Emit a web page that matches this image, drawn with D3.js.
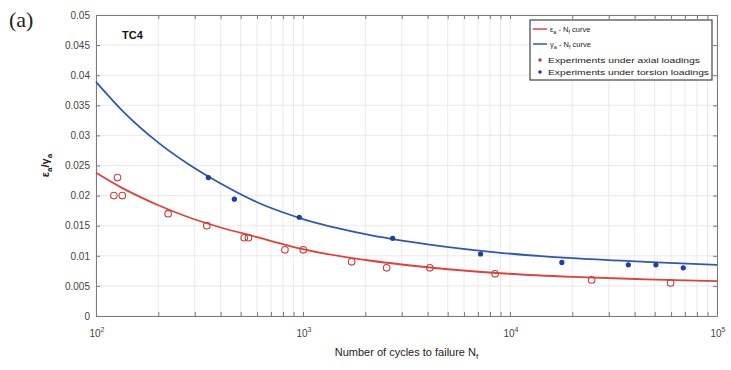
<!DOCTYPE html>
<html>
<head>
<meta charset="utf-8">
<script src="https://cdn.jsdelivr.net/npm/d3@7"></script>
<style>
  html, body { margin: 0; padding: 0; background: #fff; }
  svg { display: block; font-family: "Liberation Sans", Arial, sans-serif; }
</style>
</head>
<body>
<svg id="chart" width="731" height="370"></svg>
<script>
// Fitted strain-life curves (cycles to failure vs. amplitude)
const curveN      = [100, 135, 200, 280, 400, 600, 850, 1000, 2000, 4000, 9000, 20000, 45000, 100000];
const axialCurve  = [0.0238, 0.0212, 0.0184, 0.0164, 0.0147, 0.0131, 0.0117, 0.0111, 0.0093, 0.0081, 0.0071, 0.0065, 0.0061, 0.0058];
const torsionCurve= [0.0389, 0.0340, 0.0288, 0.0252, 0.0220, 0.0189, 0.0169, 0.0161, 0.0136, 0.0119, 0.0105, 0.0096, 0.0090, 0.0085];

// Experimental points, axial loadings
const axialN   = [122, 134, 127, 223, 343, 520, 545, 818, 1003, 1718, 2535, 4100, 8470, 24800, 59700];
const axialAmp = [0.020, 0.020, 0.023, 0.017, 0.015, 0.013, 0.013, 0.011, 0.011, 0.009, 0.008, 0.008, 0.007, 0.006, 0.0055];

// Experimental points, torsion loadings
const torsionN   = [349, 466, 960, 2711, 7210, 17800, 37300, 50700, 68700];
const torsionAmp = [0.023, 0.0194, 0.0164, 0.0129, 0.0103, 0.0089, 0.0085, 0.0085, 0.0080];

const yTickValues = [0, 0.005, 0.01, 0.015, 0.02, 0.025, 0.03, 0.035, 0.04, 0.045, 0.05];
const yTickLabels = ["0", "0.005", "0.01", "0.015", "0.02", "0.025", "0.03", "0.035", "0.04", "0.045", "0.05"];
const xDecades    = [100, 1000, 10000, 100000];
const xDecadeExp  = ["2", "3", "4", "5"];

const RED = "#e2403a", BLUE = "#2f57b8", RED_MK = "#c4413a", BLUE_MK = "#1d3fa0";

const svg = d3.select("#chart");
const L = 96, R = 717, T = 15, B = 316;

const x = d3.scaleLog().domain([100, 100000]).range([L, R]);
const y = d3.scaleLinear().domain([0, 0.05]).range([B, T]);

const minorTicks = x.ticks();

// grid
const grid = svg.append("g").attr("stroke", "#e4e4e4").attr("stroke-width", 0.8);
grid.selectAll("line.v").data(minorTicks).join("line")
  .attr("x1", d => x(d)).attr("x2", d => x(d)).attr("y1", T).attr("y2", B);
grid.selectAll("line.h").data(yTickValues).join("line")
  .attr("x1", L).attr("x2", R).attr("y1", d => y(d)).attr("y2", d => y(d));

// axes with inward ticks on all four sides
function styleAxis(g) {
  g.select(".domain").attr("stroke", "#7a7a7a").attr("stroke-width", 1);
  g.selectAll(".tick line").attr("stroke", "#7a7a7a");
  g.selectAll("text").attr("fill", "#444").attr("font-size", 10);
}
svg.append("g").attr("transform", `translate(0,${B})`)
  .call(d3.axisBottom(x).tickValues(minorTicks).tickSize(-4).tickSizeOuter(0).tickFormat(""))
  .call(styleAxis);
svg.append("g").attr("transform", `translate(0,${T})`)
  .call(d3.axisTop(x).tickValues(minorTicks).tickSize(-4).tickSizeOuter(0).tickFormat(""))
  .call(styleAxis);
svg.append("g").attr("transform", `translate(${L},0)`)
  .call(d3.axisLeft(y).tickValues(yTickValues).tickSize(-4).tickSizeOuter(0).tickPadding(6)
        .tickFormat((d, i) => yTickLabels[i]))
  .call(styleAxis);
svg.append("g").attr("transform", `translate(${R},0)`)
  .call(d3.axisRight(y).tickValues(yTickValues).tickSize(-4).tickSizeOuter(0).tickFormat(""))
  .call(styleAxis);

// decade labels 10^n
const xl = svg.append("g").attr("fill", "#444").attr("font-size", 10);
xDecades.forEach((d, i) => {
  const t = xl.append("text").attr("x", x(d) + 1).attr("y", 337).attr("text-anchor", "middle");
  t.append("tspan").text("10");
  t.append("tspan").attr("font-size", 7).attr("dy", -5).text(xDecadeExp[i]);
});

// curves
const line = d3.line().x(d => x(d[0])).y(d => y(d[1])).curve(d3.curveMonotoneX);
svg.append("path").datum(curveN.map((n, i) => [n, torsionCurve[i]]))
  .attr("d", line).attr("fill", "none").attr("stroke", BLUE).attr("stroke-width", 1.8);
svg.append("path").datum(curveN.map((n, i) => [n, axialCurve[i]]))
  .attr("d", line).attr("fill", "none").attr("stroke", RED).attr("stroke-width", 1.8);

// experiment markers
svg.append("g").selectAll("circle").data(axialN.map((n, i) => [n, axialAmp[i]])).join("circle")
  .attr("cx", d => x(d[0])).attr("cy", d => y(d[1])).attr("r", 3.3)
  .attr("fill", "none").attr("stroke", RED_MK).attr("stroke-width", 1.1);
svg.append("g").selectAll("circle").data(torsionN.map((n, i) => [n, torsionAmp[i]])).join("circle")
  .attr("cx", d => x(d[0])).attr("cy", d => y(d[1])).attr("r", 2.6)
  .attr("fill", BLUE_MK);

// legend
const lg = svg.append("g");
lg.append("rect").attr("x", 530).attr("y", 20).attr("width", 182).attr("height", 60)
  .attr("fill", "#fff").attr("stroke", "#444").attr("stroke-width", 1.2);
const lgFont = 7.5;
function legendText(xp, yp, parts) {
  const t = lg.append("text").attr("x", xp).attr("y", yp).attr("font-size", lgFont).attr("fill", "#222");
  parts.forEach(p => {
    const s = t.append("tspan").text(p.t);
    if (p.sub) s.attr("font-size", 5.5).attr("dy", 2);
    if (p.back) s.attr("dy", -2);
  });
  return t;
}
lg.append("line").attr("x1", 533).attr("x2", 547).attr("y1", 29).attr("y2", 29).attr("stroke", RED).attr("stroke-width", 1.5);
legendText(550, 32, [{t: "ε"}, {t: "a", sub: true}, {t: " - N", back: true}, {t: "f", sub: true}, {t: " curve", back: true}]);
lg.append("line").attr("x1", 533).attr("x2", 547).attr("y1", 44).attr("y2", 44).attr("stroke", BLUE).attr("stroke-width", 1.5);
legendText(550, 47, [{t: "γ"}, {t: "a", sub: true}, {t: " - N", back: true}, {t: "f", sub: true}, {t: " curve", back: true}]);
lg.append("circle").attr("cx", 540).attr("cy", 60).attr("r", 1.8).attr("fill", RED_MK);
lg.append("text").attr("x", 548).attr("y", 63).attr("font-size", lgFont).attr("fill", "#222")
  .attr("textLength", 152).attr("lengthAdjust", "spacingAndGlyphs").text("Experiments under axial loadings");
lg.append("circle").attr("cx", 540).attr("cy", 72).attr("r", 1.8).attr("fill", BLUE_MK);
lg.append("text").attr("x", 548).attr("y", 75).attr("font-size", lgFont).attr("fill", "#222")
  .attr("textLength", 161).attr("lengthAdjust", "spacingAndGlyphs").text("Experiments under torsion loadings");

// annotations
svg.append("text").attr("x", 122).attr("y", 39).attr("font-size", 11).attr("font-weight", "bold")
  .attr("fill", "#111").text("TC4");
svg.append("text").attr("x", 9).attr("y", 27).attr("font-size", 22)
  .attr("font-family", "'Liberation Serif', 'Times New Roman', serif").attr("fill", "#222").text("(a)");

// axis titles
const xt = svg.append("text").attr("x", (L + R) / 2).attr("y", 356).attr("text-anchor", "middle")
  .attr("font-size", 11).attr("fill", "#222");
xt.append("tspan").text("Number of cycles to failure N");
xt.append("tspan").attr("font-size", 8).attr("dy", 3).text("f");

const yt = svg.append("text").attr("transform", `translate(49,${(T + B) / 2}) rotate(-90)`)
  .attr("text-anchor", "middle").attr("font-size", 11).attr("font-weight", "bold").attr("fill", "#222");
yt.append("tspan").text("ε");
yt.append("tspan").attr("font-size", 8).attr("dy", 3).text("a");
yt.append("tspan").attr("dy", -3).text("/γ");
yt.append("tspan").attr("font-size", 8).attr("dy", 3).text("a");
</script>
</body>
</html>
